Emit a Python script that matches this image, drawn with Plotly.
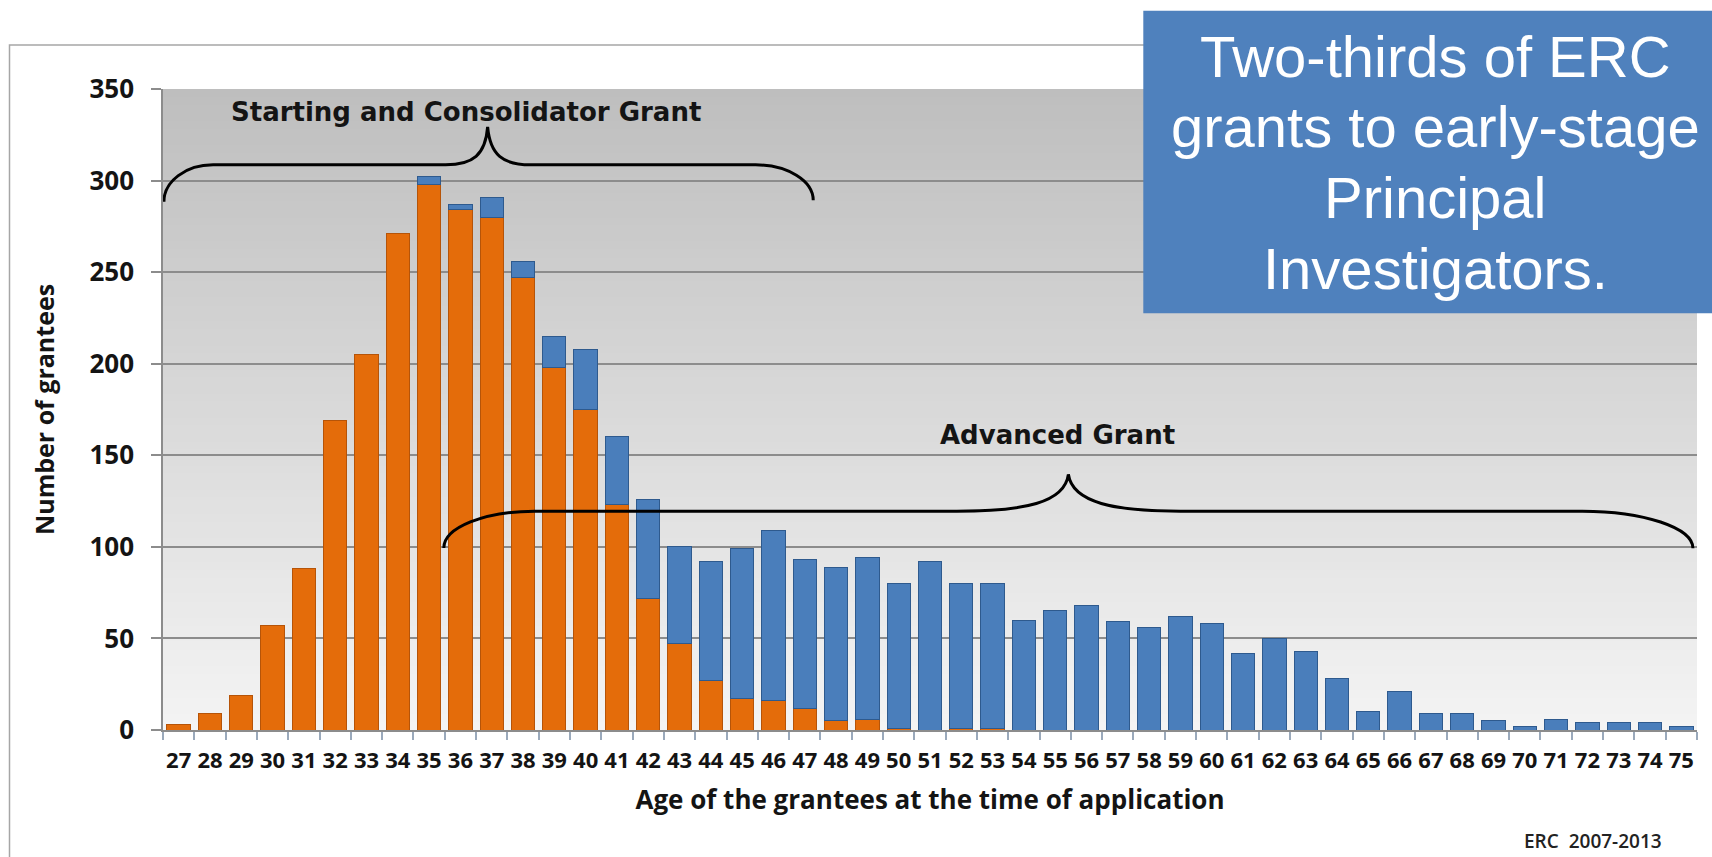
import plotly.graph_objects as go

# ---------------- data ----------------
ages = [27, 28, 29, 30, 31, 32, 33, 34, 35, 36, 37, 38, 39, 40, 41, 42, 43, 44, 45, 46, 47, 48, 49, 50, 51,
        52, 53, 54, 55, 56, 57, 58, 59, 60, 61, 62, 63, 64, 65, 66, 67, 68, 69, 70, 71, 72, 73, 74, 75]
starting_consolidator = [3, 9, 19, 57, 88, 169, 205, 271, 298, 284, 280, 247, 198, 175, 123, 72, 47, 27, 17,
                         16, 12, 5, 6, 1, 0, 1, 1, 0, 0, 0, 0, 0, 0, 0, 0, 0, 0, 0, 0, 0, 0, 0, 0, 0, 0, 0,
                         0, 0, 0]
advanced = [0, 0, 0, 0, 0, 0, 0, 0, 4, 3, 11, 9, 17, 33, 37, 54, 53, 65, 82, 93, 81, 84, 88, 79, 92,
            79, 79, 60, 65, 68, 59, 56, 62, 58, 42, 50, 43, 28, 10, 21, 9, 9, 5, 2, 6, 4, 4, 4, 2]
y_ticks = [0, 50, 100, 150, 200, 250, 300, 350]
box_lines = ["Two-thirds of ERC", "grants to early-stage", "Principal", "Investigators."]

# ---------------- styling ----------------
ORANGE = "#E46C0A"
ORANGE_EDGE = "#B65408"
BLUE = "#4A7EBB"
BLUE_EDGE = "#2E5A8E"
GRID = "#8C8C8C"
CAL = "Open Sans"
ARB = "DejaVu Sans"
TXT = "#141414"

W, H = 1712, 857
ML, MR, MT, MB = 163, 15, 89, 127
PW, PH = W - ML - MR, H - MT - MB


def px_x(px):
    return (px - ML) / PW


def px_y(py):
    return (H - MB - py) / PH


def nz(vals):
    return [v if v else None for v in vals]


fig = go.Figure()
fig.add_bar(x=ages, y=nz(starting_consolidator), name="Starting and Consolidator Grant",
            marker=dict(color=ORANGE, line=dict(color=ORANGE_EDGE, width=1)))
fig.add_bar(x=ages, y=nz(advanced), name="Advanced Grant",
            marker=dict(color=BLUE, line=dict(color=BLUE_EDGE, width=1)))

shapes = []
# gradient plot background (dark grey at top -> light grey at bottom)
n = 80
top_c, bot_c = 190, 244
for i in range(n):
    y1 = 1 - i / n
    y0 = 1 - (i + 1) / n
    c = int(round(top_c + (bot_c - top_c) * (i + 0.5) / n))
    shapes.append(dict(type="rect", xref="paper", yref="paper", x0=0, x1=1, y0=max(0, y0 - 0.002), y1=y1,
                       fillcolor=f"rgb({c},{c},{c})", line=dict(width=0), layer="below"))

# outer chart border
shapes.append(dict(type="rect", xref="paper", yref="paper", x0=px_x(9.5), x1=1.05, y0=-0.4, y1=px_y(45),
                   line=dict(color="#A6A6A6", width=1.5), fillcolor="rgba(0,0,0,0)", layer="below"))

# braces
brace1 = ("M 26.53,288.5 C 26.53,299.6 27.23,308.6 28.1,308.6 L 35.53,308.6 "
          "C 36.4,308.6 36.8,314 36.87,329.3 C 36.95,314 37.35,308.6 38.25,308.6 "
          "L 45.43,308.6 C 46.45,308.6 47.27,299.9 47.27,289.2")
brace2 = ("M 35.47,99.4 C 35.47,110.5 36.77,119.5 38.37,119.5 L 51.85,119.5 "
          "C 54.0,119.5 55.3,124 55.42,139.6 C 55.55,124 56.9,119.5 59.0,119.5 "
          "L 71.84,119.5 C 73.79,119.5 75.37,110.4 75.37,99.2")
for p in (brace1, brace2):
    shapes.append(dict(type="path", xref="x", yref="y", path=p, line=dict(color="black", width=3),
                       layer="above"))

# blue call-out box
shapes.append(dict(type="rect", xref="paper", yref="paper", x0=px_x(1143.3), x1=1.03, y0=px_y(313.3),
                   y1=px_y(10.7), fillcolor="#4F81BD", line=dict(width=0), layer="above"))

annotations = [
    dict(text="Starting and Consolidator Grant", x=36.19, y=337.2, xref="x", yref="y", showarrow=False,
         font=dict(family=ARB, size=26, weight="bold", color=TXT), xanchor="center", yanchor="middle"),
    dict(text="Advanced Grant", x=55.08, y=161.1, xref="x", yref="y", showarrow=False,
         font=dict(family=ARB, size=26, weight="bold", color=TXT), xanchor="center", yanchor="middle"),
    dict(text="ERC  2007-2013", x=px_x(1592.5), y=px_y(841), xref="paper", yref="paper", showarrow=False,
         font=dict(family=CAL, size=19, weight=600, color="#222"), xanchor="center", yanchor="middle"),
]
for line, py in zip(box_lines, [56.6, 126.6, 197.9, 268.9]):
    annotations.append(dict(text=line, x=px_x(1435), y=px_y(py), xref="paper", yref="paper",
                            showarrow=False, xanchor="center", yanchor="middle",
                            font=dict(family="Liberation Sans", size=58, color="white")))

fig.update_layout(
    width=W, height=H,
    margin=dict(l=ML, r=MR, t=MT, b=MB),
    paper_bgcolor="white", plot_bgcolor="rgba(0,0,0,0)",
    barmode="stack", bargap=0.255, showlegend=False,
    shapes=shapes, annotations=annotations,
    xaxis=dict(range=[26.5, 75.5], tickmode="array", tickvals=ages, ticktext=[str(a) for a in ages],
               ticks="", showgrid=False, zeroline=False, showline=True, linecolor=GRID, linewidth=1.5,
               tickfont=dict(family=CAL, size=22, weight="bold", color=TXT), ticklabelstandoff=10,
               minor=dict(tickmode="array", tickvals=[a - 0.5 for a in ages] + [ages[-1] + 0.5],
                          ticks="outside", ticklen=8, tickcolor="#9AA9BB", tickwidth=1.5, showgrid=False),
               title=dict(text="Age of the grantees at the time of application", standoff=18,
                          font=dict(family=CAL, size=26, weight="bold", color=TXT))),
    yaxis=dict(range=[0, 350], tickmode="array", tickvals=y_ticks, showgrid=True, gridcolor=GRID,
               gridwidth=1.5, zeroline=False, showline=True, linecolor=GRID, linewidth=1.5,
               ticks="outside", ticklen=10, tickcolor=GRID, tickwidth=1.5, ticklabelstandoff=12,
               tickfont=dict(family=CAL, size=26, weight="bold", color=TXT),
               title=dict(text="Number of grantees", standoff=28,
                          font=dict(family=CAL, size=25, weight="bold", color=TXT))),
)

fig.write_html("out.html", config={"displayModeBar": False},
               post_script="document.body.style.margin='0';document.body.style.overflow='hidden';")
